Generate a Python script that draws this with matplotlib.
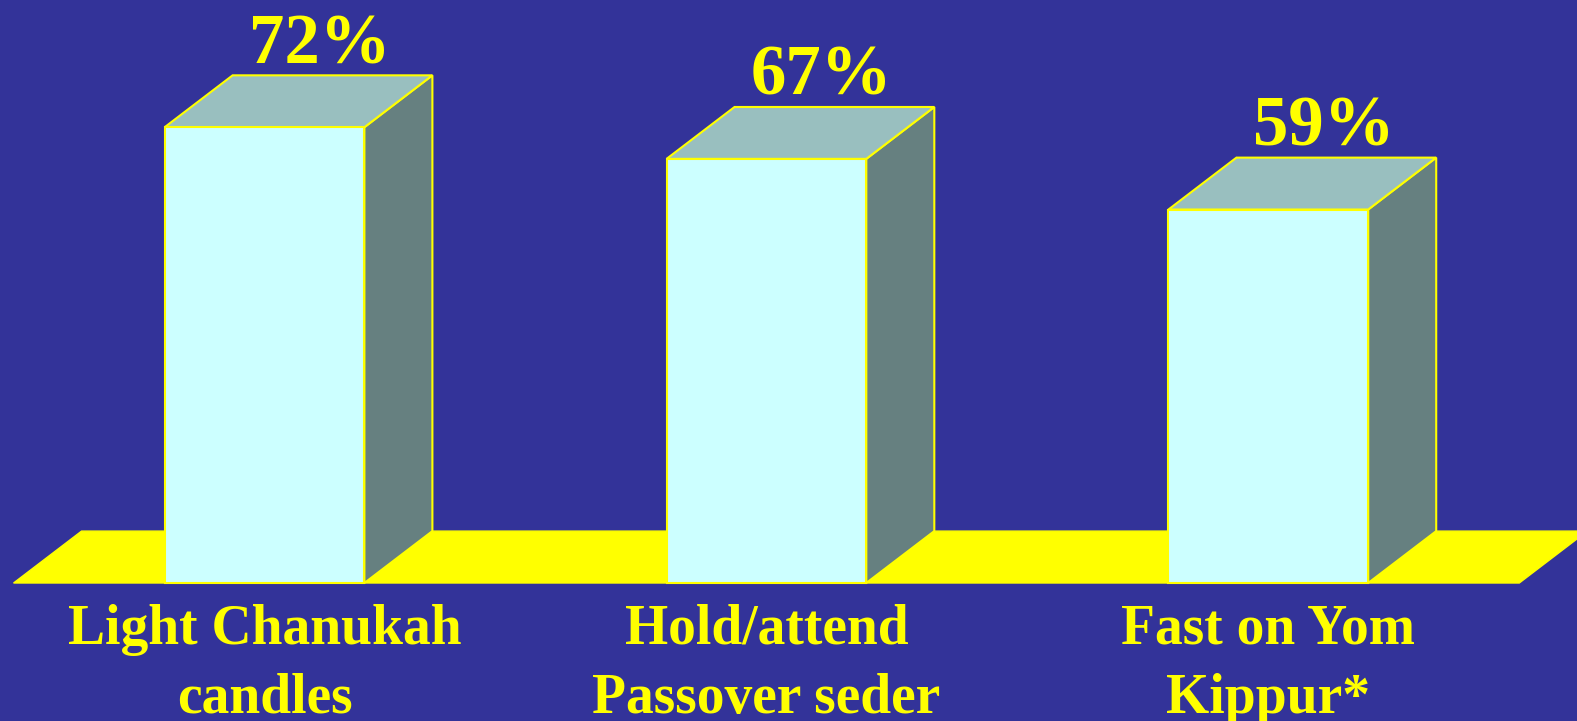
import matplotlib.pyplot as plt
from matplotlib.patches import Polygon

categories = ['Light Chanukah\ncandles', 'Hold/attend\nPassover seder', 'Fast on Yom\nKippur*']
values = [72, 67, 59]
labels = ['72%', '67%', '59%']

bg = '#333399'
yellow = '#FFFF00'
front_c = '#CCFFFF'
top_c = '#99BFBF'
side_c = '#668080'

W = 0.398      # bar width (category units)
DX = 0.1355    # depth offset in x
DY = 8.2       # depth offset in y (percent)

fig = plt.figure(figsize=(15.77, 7.21), dpi=100)
fig.patch.set_facecolor(bg)
ax = fig.add_axes([0, 0, 1, 1])
ax.set_facecolor(bg)
ax.set_xlim(-0.527, 2.615)
ax.set_ylim(-21.8, 92.1)
ax.axis('off')

# floor
n = len(values)
floor = Polygon([(-0.5, 0), (n - 0.5, 0), (n - 0.5 + DX, DY), (-0.5 + DX, DY)],
                closed=True, facecolor=yellow, edgecolor=yellow, lw=1)
ax.add_patch(floor)

for i, v in enumerate(values):
    x0, x1 = i - W / 2, i + W / 2
    front = Polygon([(x0, 0), (x1, 0), (x1, v), (x0, v)], closed=True,
                    facecolor=front_c, edgecolor=yellow, lw=1.5)
    side = Polygon([(x1, 0), (x1 + DX, DY), (x1 + DX, v + DY), (x1, v)], closed=True,
                   facecolor=side_c, edgecolor=yellow, lw=1.5)
    top = Polygon([(x0, v), (x1, v), (x1 + DX, v + DY), (x0 + DX, v + DY)], closed=True,
                  facecolor=top_c, edgecolor=yellow, lw=1.5)
    for p in (side, top, front):
        ax.add_patch(p)
    ax.text(i + 0.11, v + DY + 1.9, labels[i], ha='center', va='baseline',
            fontsize=51, fontweight='bold', family='Liberation Serif', color=yellow)
    # va='baseline' pins the last line
    ax.text(i, -20.5, categories[i], ha='center', va='baseline', linespacing=1.43,
            fontsize=40, fontweight='bold', family='Liberation Serif', color=yellow)

fig.savefig('out.png', dpi=100, facecolor=bg)
